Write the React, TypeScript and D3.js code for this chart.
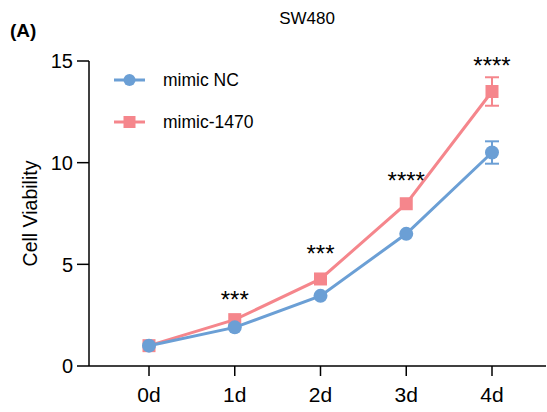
import React from "react";
import * as d3 from "d3";

const days = ["0d", "1d", "2d", "3d", "4d"];
const ncMean = [1.0, 1.9, 3.45, 6.5, 10.5];
const ncErr = [0.1, 0.1, 0.1, 0.1, 0.55];
const mimicMean = [1.0, 2.28, 4.28, 7.98, 13.5];
const mimicErr = [0.1, 0.1, 0.1, 0.1, 0.7];
const stars = ["", "***", "***", "****", "****"];
const starY = [0, 2.85, 5.12, 8.7, 14.35];
const yTicks = [0, 5, 10, 15];

const BLUE = "#6b9fd5";
const PINK = "#f5868c";
const FONT = "Liberation Sans, Arial, sans-serif";

export default function App() {
  const width = 547;
  const height = 412;

  const x = d3.scalePoint<string>().domain(days).range([149, 492]);
  const y = d3.scaleLinear().domain([0, 15]).range([366, 61]);

  const line = d3
    .line<number>()
    .x((_, i) => x(days[i])!)
    .y((d) => y(d));

  const errBar = (vals: number[], errs: number[], color: string) =>
    vals.map((v, i) => {
      if (errs[i] < 0.3) return null;
      const cx = x(days[i])!;
      return (
        <g key={i} stroke={color} strokeWidth={2}>
          <line x1={cx} x2={cx} y1={y(v + errs[i])} y2={y(v - errs[i])} />
          <line x1={cx - 7} x2={cx + 7} y1={y(v + errs[i])} y2={y(v + errs[i])} />
          <line x1={cx - 7} x2={cx + 7} y1={y(v - errs[i])} y2={y(v - errs[i])} />
        </g>
      );
    });

  return (
    <svg
      width={width}
      height={height}
      style={{ position: "absolute", left: 0, top: 0, background: "#fff" }}
      fontFamily={FONT}
    >
      <text x={10} y={37} fontSize={19} fontWeight="bold">
        (A)
      </text>
      <text x={307} y={24} fontSize={17} textAnchor="middle">
        SW480
      </text>

      {/* y axis */}
      <line x1={89} x2={89} y1={y(15)} y2={y(0)} stroke="#000" strokeWidth={1.5} />
      {yTicks.map((t) => (
        <g key={t}>
          <line x1={77} x2={89} y1={y(t)} y2={y(t)} stroke="#000" strokeWidth={1.5} />
          <text x={73} y={y(t)} dy="0.36em" fontSize={20} textAnchor="end">
            {t}
          </text>
        </g>
      ))}
      <text
        transform={`translate(37,${y(7.5)}) rotate(-90)`}
        fontSize={19.5}
        textAnchor="middle"
      >
        Cell Viability
      </text>

      {/* x axis */}
      <line x1={89} x2={546} y1={y(0)} y2={y(0)} stroke="#000" strokeWidth={1.5} />
      {days.map((d) => (
        <g key={d}>
          <line x1={x(d)} x2={x(d)} y1={y(0)} y2={y(0) + 10} stroke="#000" strokeWidth={1.5} />
          <text x={x(d)} y={402} fontSize={21} textAnchor="middle">
            {d}
          </text>
        </g>
      ))}

      {/* error bars */}
      {errBar(ncMean, ncErr, BLUE)}
      {errBar(mimicMean, mimicErr, PINK)}

      {/* mimic-1470 */}
      <path d={line(mimicMean)!} fill="none" stroke={PINK} strokeWidth={3} />
      {mimicMean.map((v, i) => (
        <rect key={i} x={x(days[i])! - 6.5} y={y(v) - 6.5} width={13} height={13} fill={PINK} />
      ))}

      {/* mimic NC */}
      <path d={line(ncMean)!} fill="none" stroke={BLUE} strokeWidth={3} />
      {ncMean.map((v, i) => (
        <circle key={i} cx={x(days[i])!} cy={y(v)} r={7} fill={BLUE} />
      ))}

      {/* significance */}
      {stars.map((s, i) =>
        s ? (
          <text key={i} x={x(days[i])} y={y(starY[i])} fontSize={24} textAnchor="middle">
            {s}
          </text>
        ) : null
      )}

      {/* legend */}
      <line x1={114} x2={145} y1={80} y2={80} stroke={BLUE} strokeWidth={3} />
      <circle cx={129.5} cy={80} r={6} fill={BLUE} />
      <text x={163} y={86} fontSize={17.5}>
        mimic NC
      </text>
      <line x1={114} x2={145} y1={122} y2={122} stroke={PINK} strokeWidth={3} />
      <rect x={123.5} y={116} width={12} height={12} fill={PINK} />
      <text x={163} y={128} fontSize={17.5}>
        mimic-1470
      </text>
    </svg>
  );
}
